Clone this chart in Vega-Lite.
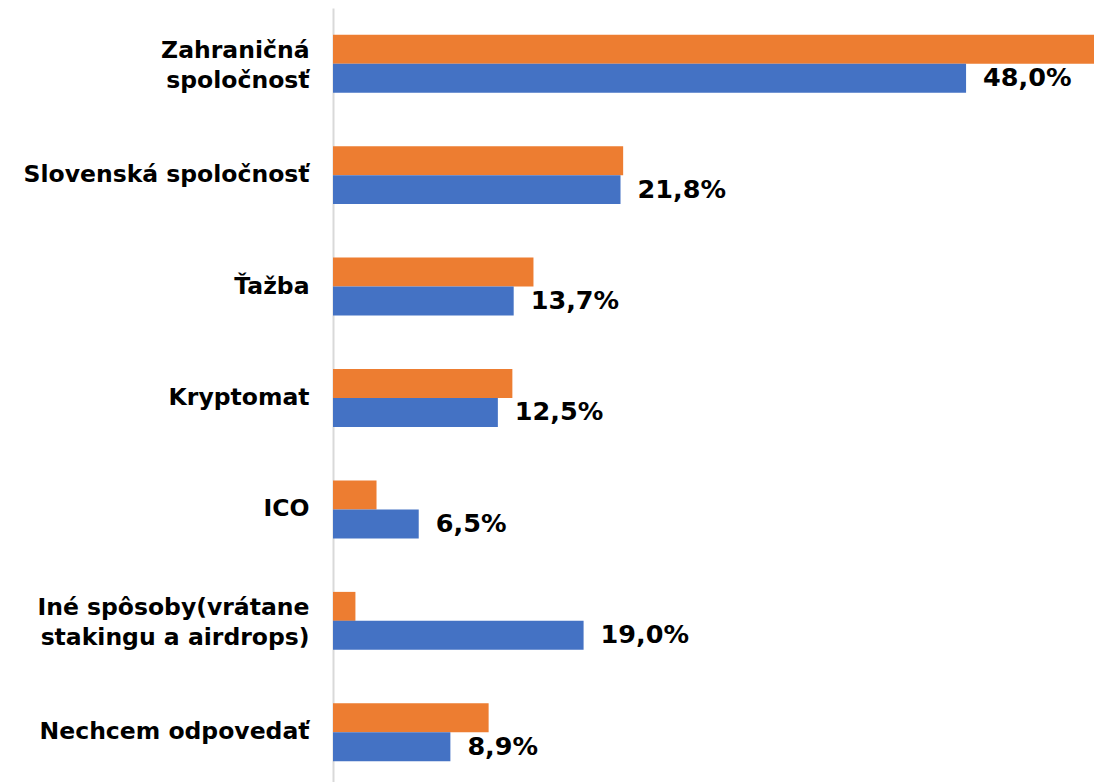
{
  "$schema": "https://vega.github.io/schema/vega-lite/v6.json",
  "width": 761,
  "height": 774,
  "autosize": {"type": "none"},
  "padding": {"left": 333, "top": 8, "right": 0, "bottom": 0},
  "background": "white",
  "config": {
    "view": {"stroke": null},
    "locale": {"number": {"decimal": ",", "thousands": " ", "grouping": [3], "currency": ["", " €"]}}
  },
  "data": {
    "values": [
      {"kategoria": "Zahraničná spoločnosť", "seria": "A", "hodnota": 0.62},
      {"kategoria": "Zahraničná spoločnosť", "seria": "B", "hodnota": 0.48},
      {"kategoria": "Slovenská spoločnosť", "seria": "A", "hodnota": 0.22},
      {"kategoria": "Slovenská spoločnosť", "seria": "B", "hodnota": 0.218},
      {"kategoria": "Ťažba", "seria": "A", "hodnota": 0.152},
      {"kategoria": "Ťažba", "seria": "B", "hodnota": 0.137},
      {"kategoria": "Kryptomat", "seria": "A", "hodnota": 0.136},
      {"kategoria": "Kryptomat", "seria": "B", "hodnota": 0.125},
      {"kategoria": "ICO", "seria": "A", "hodnota": 0.033},
      {"kategoria": "ICO", "seria": "B", "hodnota": 0.065},
      {"kategoria": "Iné spôsoby(vrátane stakingu a airdrops)", "seria": "A", "hodnota": 0.017},
      {"kategoria": "Iné spôsoby(vrátane stakingu a airdrops)", "seria": "B", "hodnota": 0.19},
      {"kategoria": "Nechcem odpovedať", "seria": "A", "hodnota": 0.118},
      {"kategoria": "Nechcem odpovedať", "seria": "B", "hodnota": 0.089}
    ]
  },
  "encoding": {
    "y": {
      "field": "kategoria",
      "type": "nominal",
      "sort": null,
      "scale": {"range": [0, 780], "paddingInner": 0.48, "paddingOuter": 0.24},
      "axis": {
        "title": null,
        "ticks": false,
        "domainColor": "#d9d9d9",
        "domainWidth": 2,
        "labelFont": "DejaVu Sans",
        "labelFontWeight": "bold",
        "labelFontSize": 23.5,
        "labelColor": "#000000",
        "labelPadding": 24,
        "labelLineHeight": 30,
        "labelLimit": 400,
        "labelOffset": {
          "condition": {"test": "datum.value == 'Zahraničná spoločnosť' || datum.value == 'Iné spôsoby(vrátane stakingu a airdrops)'", "value": -13},
          "value": 0
        },
        "labelExpr": "datum.value == 'Zahraničná spoločnosť' ? ['Zahraničná', 'spoločnosť'] : datum.value == 'Iné spôsoby(vrátane stakingu a airdrops)' ? ['Iné spôsoby(vrátane', 'stakingu a airdrops)'] : datum.value"
      }
    },
    "yOffset": {
      "field": "seria",
      "type": "nominal",
      "sort": ["A", "B"],
      "scale": {"paddingInner": 0, "paddingOuter": 0}
    },
    "x": {
      "field": "hodnota",
      "type": "quantitative",
      "scale": {"domain": [0, 0.577], "nice": false, "zero": true},
      "axis": null
    }
  },
  "layer": [
    {
      "mark": {"type": "bar", "clip": true},
      "encoding": {
        "color": {
          "field": "seria",
          "type": "nominal",
          "scale": {"domain": ["A", "B"], "range": ["#ED7D31", "#4472C4"]},
          "legend": null
        }
      }
    },
    {
      "transform": [{"filter": "datum.seria == 'B'"}],
      "mark": {
        "type": "text",
        "align": "left",
        "baseline": "middle",
        "dx": 17,
        "font": "DejaVu Sans",
        "fontWeight": "bold",
        "fontSize": 25.5,
        "color": "#000000"
      },
      "encoding": {
        "text": {"field": "hodnota", "type": "quantitative", "format": ".1%"}
      }
    }
  ]
}
